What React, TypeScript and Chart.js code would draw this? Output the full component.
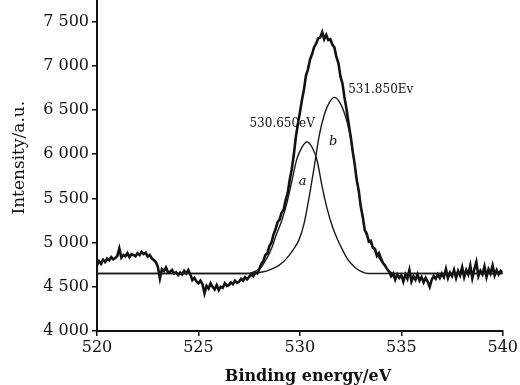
import React, { useEffect, useRef } from "react";
import { Chart, registerables } from "chart.js";

Chart.register(...registerables);

// ---- data ----
const xTicks = [520, 525, 530, 535, 540];
const yTicks = [4000, 4500, 5000, 5500, 6000, 6500, 7000, 7500];
const yMin = 4000;
const yMax = 7737;

// measured spectrum, sampled every 0.1 eV starting at 520 eV
const spectrumStart = 520;
const spectrumStep = 0.1;
const spectrumIntensity = [
  4745, 4790, 4760, 4805, 4780, 4820, 4800, 4835, 4810, 4825,
  4850, 4934, 4830, 4860, 4845, 4880, 4835, 4870, 4858, 4845,
  4880, 4860, 4896, 4870, 4885, 4840, 4860, 4820, 4802, 4780,
  4726, 4595, 4700, 4680, 4720, 4665, 4670, 4690, 4650, 4665,
  4632, 4660, 4640, 4680, 4650, 4689, 4640, 4576, 4600, 4560,
  4539, 4570, 4530, 4426, 4510, 4480, 4540, 4500, 4470, 4520,
  4463, 4500, 4490, 4540, 4510, 4519, 4550, 4530, 4570, 4545,
  4557, 4590, 4570, 4610, 4585, 4613, 4640, 4620, 4660, 4650,
  4700, 4760, 4790, 4860, 4880, 4960, 5000, 5090, 5150, 5230,
  5260, 5340, 5370, 5480, 5560, 5710, 5830, 5990, 6190, 6340,
  6470, 6610, 6730, 6890, 6960, 7070, 7130, 7210, 7250, 7310,
  7320, 7380, 7300, 7350, 7290, 7300, 7240, 7210, 7100, 7030,
  6880, 6800, 6640, 6510, 6350, 6210, 6040, 5890, 5710, 5590,
  5410, 5290, 5140, 5100, 5010, 5020, 4940, 4930, 4850, 4880,
  4820, 4770, 4740, 4700, 4670, 4620, 4650, 4580, 4640, 4600,
  4630, 4560, 4640, 4590, 4690, 4560, 4620, 4580, 4640, 4570,
  4610, 4550, 4600, 4560, 4500, 4580, 4620, 4590, 4640, 4600,
  4650, 4610, 4700, 4600, 4660, 4620, 4690, 4600, 4680, 4630,
  4720, 4610, 4690, 4640, 4740, 4600, 4700, 4780, 4620, 4680,
  4640, 4730, 4610, 4700, 4650, 4740, 4630, 4690, 4640, 4680,
  4660,
];

// fitted component a
const peakAEnergy = [
  520, 527.35, 527.6, 527.85, 528.1, 528.35, 528.6, 528.85, 529.1, 529.35,
  529.6, 529.85, 530.1, 530.35, 530.6, 530.85, 531.1, 531.35, 531.6, 531.85,
  532.1, 532.35, 532.6, 532.85, 533.1, 533.35, 540,
];
const peakAIntensity = [
  4650, 4650, 4657, 4680, 4724, 4814, 4933, 5096, 5245, 5438,
  5691, 5944, 6078, 6137, 6078, 5929, 5631, 5379, 5185, 5037,
  4918, 4814, 4747, 4695, 4665, 4650, 4650,
];

// fitted component b
const peakBEnergy = [
  520, 527.7, 527.95, 528.2, 528.45, 528.7, 528.95, 529.2, 529.45, 529.7,
  529.95, 530.2, 530.45, 530.7, 530.95, 531.2, 531.45, 531.7, 531.95, 532.2,
  532.45, 532.7, 532.95, 533.2, 533.45, 533.7, 533.95, 534.2, 534.45, 534.7, 540,
];
const peakBIntensity = [
  4650, 4650, 4658, 4670, 4686, 4710, 4740, 4785, 4849, 4929,
  5028, 5208, 5507, 5845, 6204, 6443, 6582, 6642, 6592, 6463,
  6244, 5885, 5507, 5148, 5009, 4909, 4809, 4730, 4670, 4650, 4650,
];

const labelA = "530.650eV";
const labelB = "531.850Ev";
const xTitle = "Binding energy/eV";
const yTitle = "Intensity/a.u.";

const INK = "#111111";
const FONT = '"DejaVu Serif", "Liberation Serif", serif';
const TOP_SHIFT = 12;

function fmt(v: number): string {
  const s = String(Math.round(v));
  if (s.length <= 3) return s;
  return s.slice(0, s.length - 3) + " " + s.slice(s.length - 3);
}

const textPlugin = {
  id: "xpsText",
  afterDatasetsDraw(chart: any) {
    const { ctx } = chart;
    const x = chart.scales.x;
    const y = chart.scales.y;
    ctx.save();
    ctx.fillStyle = INK;
    ctx.textBaseline = "middle";

    ctx.font = `12px ${FONT}`;
    ctx.textAlign = "right";
    ctx.fillText(labelA, x.getPixelForValue(530.74), y.getPixelForValue(6348));
    ctx.textAlign = "left";
    ctx.fillText(labelB, x.getPixelForValue(532.38), y.getPixelForValue(6732));

    ctx.font = `italic 13px ${FONT}`;
    ctx.textAlign = "center";
    ctx.fillText("a", x.getPixelForValue(530.13), y.getPixelForValue(5686));
    ctx.fillText("b", x.getPixelForValue(531.64), y.getPixelForValue(6137));

    // axis titles
    ctx.font = `bold 16px ${FONT}`;
    ctx.textAlign = "center";
    ctx.fillText(xTitle, x.getPixelForValue(530.4), y.bottom + 46);

    ctx.font = `17px ${FONT}`;
    ctx.translate(x.left - 77, y.getPixelForValue(5960));
    ctx.rotate(-Math.PI / 2);
    ctx.fillText(yTitle, 0, 0);
    ctx.restore();
  },
};

export default function App() {
  const ref = useRef<HTMLCanvasElement | null>(null);

  useEffect(() => {
    if (!ref.current) return;
    const spectrum = spectrumIntensity.map((v, i) => ({
      x: spectrumStart + i * spectrumStep,
      y: v,
    }));
    const compA = peakAEnergy.map((e, i) => ({ x: e, y: peakAIntensity[i] }));
    const compB = peakBEnergy.map((e, i) => ({ x: e, y: peakBIntensity[i] }));

    const gridOpts = {
      display: true,
      drawOnChartArea: false,
      drawTicks: true,
      tickLength: 5,
      color: INK,
      lineWidth: 1.5,
    };

    const chart = new Chart(ref.current, {
      type: "line",
      data: {
        datasets: [
          {
            label: "a",
            data: compA,
            borderColor: "#1a1a1a",
            borderWidth: 1.4,
            pointRadius: 0,
            fill: false,
            cubicInterpolationMode: "monotone",
          },
          {
            label: "b",
            data: compB,
            borderColor: "#1a1a1a",
            borderWidth: 1.4,
            pointRadius: 0,
            fill: false,
            cubicInterpolationMode: "monotone",
          },
          {
            label: "spectrum",
            data: spectrum,
            borderColor: INK,
            borderWidth: 2.6,
            pointRadius: 0,
            fill: false,
            tension: 0,
          },
        ],
      },
      options: {
        animation: false,
        responsive: false,
        maintainAspectRatio: false,
        devicePixelRatio: 1,
        layout: { padding: 0 },
        plugins: {
          legend: { display: false },
          tooltip: { enabled: false },
          title: { display: false },
        },
        scales: {
          x: {
            type: "linear",
            min: xTicks[0],
            max: xTicks[xTicks.length - 1],
            afterFit: (s: any) => {
              s.height = 54;
            },
            afterBuildTicks: (s: any) => {
              s.ticks = xTicks.map((v) => ({ value: v }));
            },
            ticks: {
              autoSkip: false,
              color: INK,
              font: { family: FONT, size: 16 },
              padding: 2,
              maxRotation: 0,
            },
            grid: gridOpts,
            border: { display: true, color: INK, width: 2 },
          },
          y: {
            type: "linear",
            min: yMin,
            max: yMax,
            afterFit: (s: any) => {
              s.width = 97;
            },
            afterBuildTicks: (s: any) => {
              s.ticks = yTicks.map((v) => ({ value: v }));
            },
            ticks: {
              autoSkip: false,
              color: INK,
              font: { family: FONT, size: 16 },
              padding: 3,
              callback: (v: any) => fmt(Number(v)),
            },
            grid: gridOpts,
            border: { display: true, color: INK, width: 2 },
          },
        },
      },
      plugins: [textPlugin],
    });
    return () => chart.destroy();
  }, []);

  return (
    <div
      style={{
        position: "fixed",
        left: 0,
        top: -TOP_SHIFT,
        width: 520,
        height: 385 + TOP_SHIFT,
        background: "#fff",
      }}
    >
      <canvas
        ref={ref}
        width={520}
        height={385 + TOP_SHIFT}
        style={{ width: 520, height: 385 + TOP_SHIFT, display: "block" }}
      />
    </div>
  );
}
